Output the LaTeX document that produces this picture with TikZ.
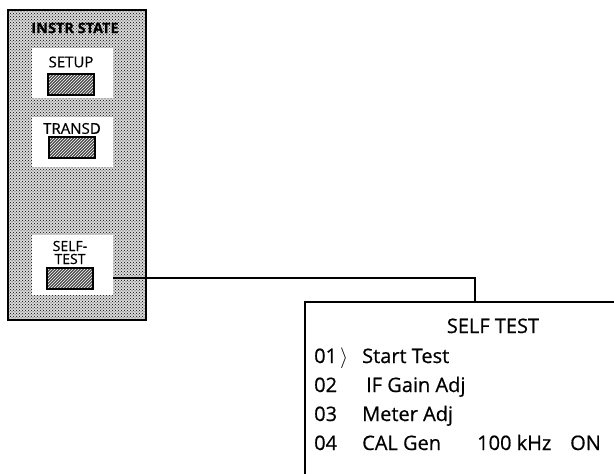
\documentclass[tikz,border=0pt]{standalone}
\usepackage{fontspec}
\setmainfont{Open Sans}[FakeBold=0.6]
\usetikzlibrary{patterns, positioning}

\begin{document}
\begin{tikzpicture}[
    x=1pt, y=-1pt,
    node distance=5pt,
    panel/.style={
        draw,
        line width=1.8pt,
        preaction={fill=black!15},
        pattern=crosshatch dots,
        pattern color=black,
        minimum width=138pt,
        minimum height=310pt,
        inner sep=0pt
    },
    keyarea/.style={fill=white, minimum width=81pt, inner sep=0pt},
    keybtn/.style={draw, line width=1.8pt, preaction={fill=black!70}, pattern=north east lines, pattern color=white, minimum width=46pt, minimum height=21pt, inner sep=0pt},
    keylabel/.style={align=center, inner sep=0pt, font=\fontsize{15}{13}\selectfont},
    menuline/.style={anchor=base west, inner sep=0pt, font=\fontsize{20}{24}\selectfont},
    wire/.style={line width=1.4pt}
]
\useasboundingbox (0,0) rectangle (614,474);

% instrument state panel
\node[panel] (panel) at (77,165) {};
\node[font=\bfseries\fontsize{14.5}{14}\selectfont, inner sep=0pt] (paneltitle) at (75,28) {INSTR STATE};

\node[keyarea, minimum height=50pt] (setuparea) at (72.5,73) {};
\node[keyarea, minimum height=50pt] (transdarea) at (72.5,142) {};
\node[keyarea, minimum height=60pt] (selfarea) at (72.5,265) {};

\node[keylabel] (setuplabel) at (71,62) {SETUP};
\node[keybtn, below=of setuplabel] (setupbtn) {};
\node[keylabel] (transdlabel) at (72,128.5) {TRANSD};
\node[keybtn, below=2pt of transdlabel] (transdbtn) {};
\node[keylabel, font=\fontsize{14}{13}\selectfont] (selflabel) at (70,252.5) {SELF-\\TEST};
\node[keybtn, below=3pt of selflabel] (selfbtn) {};

% self test menu
\node[draw, line width=1.6pt, anchor=north west, minimum width=340pt, minimum height=200pt] (menu) at (304,301) {};
\node[anchor=base, inner sep=0pt, font=\fontsize{20}{24}\selectfont] (menutitle) at (493,333) {SELF TEST};

\node[menuline] (num01) at (314,363) {01};
\node[menuline] (cursor) at (340,363) {$\rangle$};
\node[menuline] (item01) at (362,363) {Start Test};
\node[menuline] (num02) at (314,392) {02};
\node[menuline] (item02) at (366,392) {IF Gain Adj};
\node[menuline] (num03) at (314,421) {03};
\node[menuline] (item03) at (362,421) {Meter Adj};
\node[menuline] (num04) at (314,450) {04};
\node[menuline] (item04) at (362,450) {CAL Gen};
\node[menuline] (freq04) at (477,450) {100 kHz};
\node[menuline] (state04) at (570,450) {ON};

\coordinate (tap) at (475,278);
\draw[wire] (selfarea.east |- tap) -- (tap) -- (tap |- menu.north);
\end{tikzpicture}
\end{document}
